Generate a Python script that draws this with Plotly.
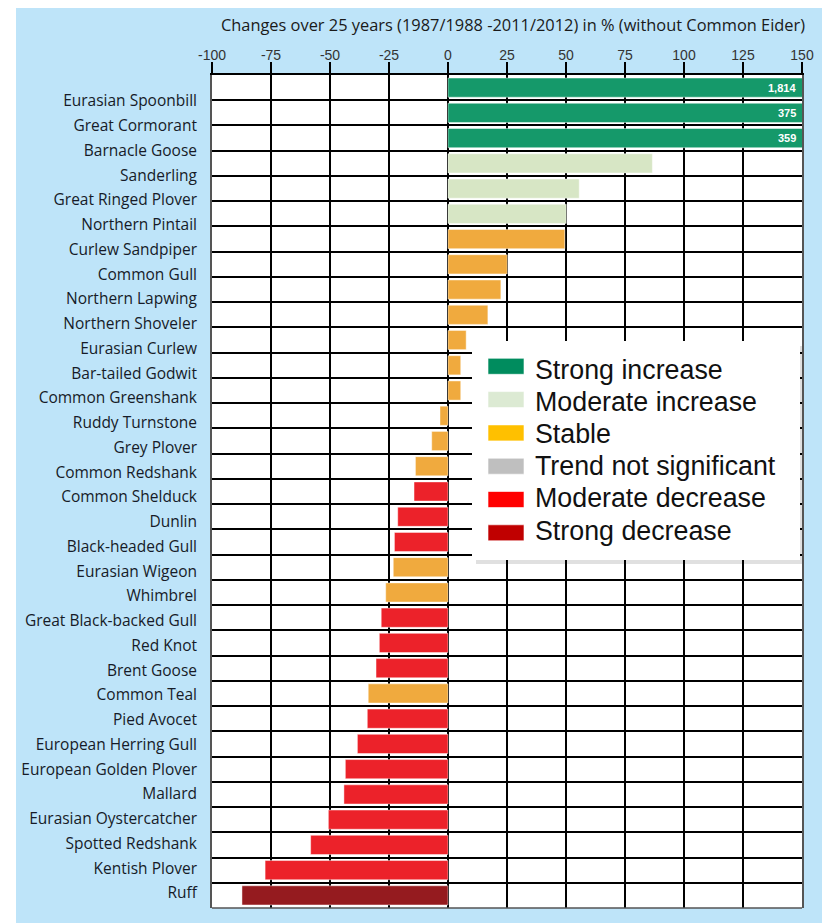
import plotly.graph_objects as go

# ---------------- data ----------------
species = [
    "Eurasian Spoonbill", "Great Cormorant", "Barnacle Goose", "Sanderling",
    "Great Ringed Plover", "Northern Pintail", "Curlew Sandpiper", "Common Gull",
    "Northern Lapwing", "Northern Shoveler", "Eurasian Curlew", "Bar-tailed Godwit",
    "Common Greenshank", "Ruddy Turnstone", "Grey Plover", "Common Redshank",
    "Common Shelduck", "Dunlin", "Black-headed Gull", "Eurasian Wigeon", "Whimbrel",
    "Great Black-backed Gull", "Red Knot", "Brent Goose", "Common Teal", "Pied Avocet",
    "European Herring Gull", "European Golden Plover", "Mallard",
    "Eurasian Oystercatcher", "Spotted Redshank", "Kentish Plover", "Ruff",
]
change_pct = [
    1814, 375, 359, 86.6, 55.6, 50.1, 49.5, 25.1, 22.4, 16.9, 7.7, 5.4, 5.4,
    -3.4, -6.9, -13.8, -14.4, -21.3, -22.7, -23.2, -26.4, -28.3, -29.1, -30.5,
    -33.8, -34.2, -38.4, -43.5, -44.1, -50.7, -58.2, -77.5, -87.3,
]
trend = [
    "strong_inc", "strong_inc", "strong_inc", "mod_inc", "mod_inc", "mod_inc",
    "stable", "stable", "stable", "stable", "stable", "stable", "stable",
    "stable", "stable", "stable", "mod_dec", "mod_dec", "mod_dec", "stable",
    "stable", "mod_dec", "mod_dec", "mod_dec", "stable", "mod_dec", "mod_dec",
    "mod_dec", "mod_dec", "mod_dec", "mod_dec", "mod_dec", "strong_dec",
]
bar_colors = {
    "strong_inc": "#15996A",
    "mod_inc": "#D7E6C5",
    "stable": "#F0AA3E",
    "not_sig": "#BFBFBF",
    "mod_dec": "#EC222A",
    "strong_dec": "#951B1F",
}
legend_labels = ["Strong increase", "Moderate increase", "Stable",
                 "Trend not significant", "Moderate decrease", "Strong decrease"]
legend_colors = ["#008C5E", "#DCEAD3", "#FFC000", "#BFBFBF", "#FF0000", "#C00000"]
x_ticks = [-100, -75, -50, -25, 0, 25, 50, 75, 100, 125, 150]
x_tick_labels = ["-100", "-75", "-50", "-25", "0", "25", "50", "75", "100", "125", "150"]
title_text = "Changes over 25 years (1987/1988 -2011/2012) in % (without Common Eider)"

# ---------------- layout geometry (screen pixels) ----------------
SCR_W, SCR_H = 832, 923
OFF = 8                      # default page margin around the figure
W, H = SCR_W - OFF, SCR_H - OFF
PL, PR, PT, PB = 212, 802, 75, 908       # plot area on screen
L, R, T, B = PL - OFF, W - (PR - OFF), PT - OFF, H - (PB - OFF)
PW, PH = PR - PL, PB - PT
XMIN, XMAX = x_ticks[0], x_ticks[-1]


def px_x(p):
    return (p - PL) / PW


def px_y(p):
    return (PB - p) / PH


LABEL_FONT = "Open Sans"
n = len(species)

fig = go.Figure()
fig.add_trace(go.Bar(
    x=change_pct, y=species, orientation="h",
    marker=dict(color=[bar_colors[t] for t in trend],
                line=dict(color="rgba(255,255,255,0.45)", width=1)),
    width=0.76, showlegend=False, hoverinfo="x+y",
))
# carrier trace for the category-label axis
fig.add_trace(go.Scatter(
    x=[None] * n, y=species, yaxis="y2", mode="markers",
    showlegend=False, hoverinfo="skip",
))

shapes = [
    # light-blue panel
    dict(type="rect", xref="paper", yref="paper", layer="below",
         x0=px_x(16), x1=px_x(822), y0=px_y(SCR_H + 20), y1=px_y(4),
         fillcolor="#BEE4F9", line=dict(width=0)),
    # white plotting area
    dict(type="rect", xref="paper", yref="paper", layer="below",
         x0=0, x1=1, y0=0, y1=1, fillcolor="white", line=dict(width=0)),
    # legend shadow + box
    dict(type="rect", xref="paper", yref="paper", layer="above",
         x0=px_x(476), x1=px_x(802), y0=px_y(564), y1=px_y(346),
         fillcolor="rgba(0,0,0,0.12)", line=dict(width=0)),
    dict(type="rect", xref="paper", yref="paper", layer="above",
         x0=px_x(472), x1=px_x(800), y0=px_y(560), y1=px_y(341),
         fillcolor="white", line=dict(width=0)),
]
annotations = []
for i, (lab, col) in enumerate(zip(legend_labels, legend_colors)):
    cy = 366.3 + 33.3 * i
    ty = 370.0 + 32.1 * i
    shapes.append(dict(type="rect", xref="paper", yref="paper", layer="above",
                       x0=px_x(488), x1=px_x(524), y0=px_y(cy + 8), y1=px_y(cy - 8),
                       fillcolor=col, line=dict(color="rgba(255,255,255,0.6)", width=1)))
    annotations.append(dict(xref="paper", yref="paper", x=px_x(533), y=px_y(ty),
                            xanchor="left", yanchor="middle", showarrow=False,
                            text=lab, font=dict(family="Liberation Sans", size=26.8,
                                                color="#111111")))

# values of bars running past the axis end
for sp, v in zip(species, change_pct):
    if v > XMAX:
        annotations.append(dict(xref="x domain", yref="y", x=1, y=sp,
                                xanchor="right", yanchor="middle", xshift=-4,
                                showarrow=False, text=f"<b>{v:,}</b>",
                                font=dict(family="Liberation Sans", size=11,
                                          color="white")))

fig.update_layout(
    width=W, height=H,
    margin=dict(l=L, r=R, t=T, b=B, pad=0),
    paper_bgcolor="white", plot_bgcolor="white",
    title=dict(text=title_text, xref="paper", x=px_x(513), xanchor="center",
               yref="container", y=1 - (25 - OFF) / H, yanchor="middle",
               font=dict(family=LABEL_FONT, size=16.4, color="#1a1a1a")),
    xaxis=dict(range=[XMIN, XMAX], side="top", tickvals=x_ticks,
               ticktext=x_tick_labels,
               ticks="outside", ticklen=11, tickwidth=1.5, tickcolor="black",
               ticklabelstandoff=-3,
               showgrid=True, gridcolor="black", gridwidth=1.5, zeroline=False,
               showline=True, linecolor="black", linewidth=1.5, mirror=False,
               tickfont=dict(family="Liberation Sans", size=14, color="#333333"),
               fixedrange=True),
    yaxis=dict(type="category", categoryorder="array", categoryarray=species,
               range=[n - 0.5, -0.5], tickson="boundaries", ticks="",
               showgrid=True, gridcolor="black", gridwidth=1.5,
               showticklabels=False, showline=True, linecolor="#555555",
               linewidth=1.5, mirror=True, fixedrange=True),
    yaxis2=dict(type="category", categoryorder="array", categoryarray=species,
                overlaying="y", side="left", range=[32.61, -1.05],
                showgrid=False, ticks="", showline=False, zeroline=False,
                ticklabelstandoff=14,
                tickfont=dict(family=LABEL_FONT, size=15.5, color="#161b28"),
                fixedrange=True),
    shapes=shapes,
    annotations=annotations,
)
# bottom border of the plot area (grey)
fig.add_shape(type="line", xref="paper", yref="paper", x0=0, x1=1, y0=0, y1=0,
              line=dict(color="#555555", width=1.5), layer="above")

fig.write_html("out.html")
